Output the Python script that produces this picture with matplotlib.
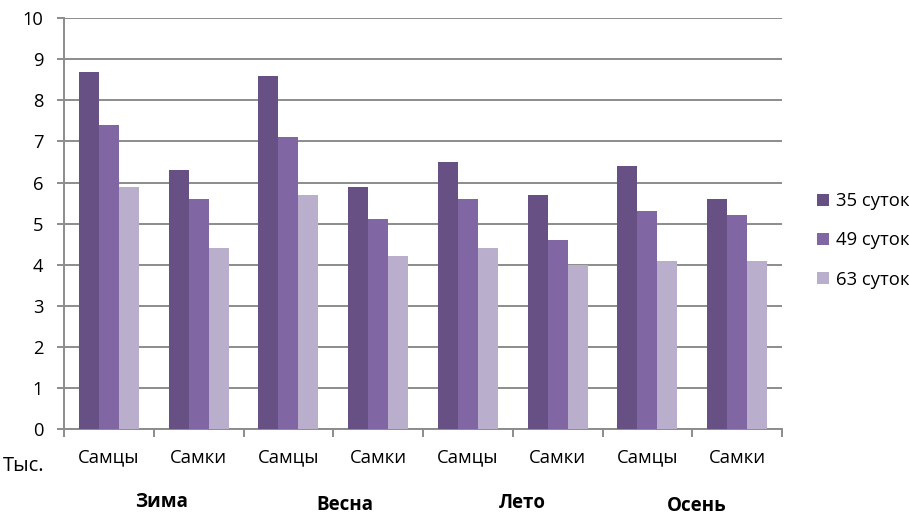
import numpy as np
import matplotlib
matplotlib.use("Agg")
import matplotlib.pyplot as plt
from matplotlib.patches import Patch

plt.rcParams["font.family"] = ["Open Sans", "DejaVu Sans"]

seasons = ["Зима", "Весна", "Лето", "Осень"]
sexes = ["Самцы", "Самки"]
series_names = ["35 суток", "49 суток", "63 суток"]
d35 = [8.7, 6.3, 8.6, 5.9, 6.5, 5.7, 6.4, 5.6]
d49 = [7.4, 5.6, 7.1, 5.1, 5.6, 4.6, 5.3, 5.2]
d63 = [5.9, 4.4, 5.7, 4.2, 4.4, 4.0, 4.1, 4.1]
colors = ["#675084", "#8066a3", "#b9afcc"]

cat_labels = sexes * len(seasons)
x = np.arange(len(cat_labels))
w = 0.223

fig = plt.figure(figsize=(9.09, 5.17), dpi=100)
ax = fig.add_axes([0.0704, 0.170, 0.79, 0.795])

for i, (vals, c) in enumerate(zip([d35, d49, d63], colors)):
    ax.bar(x + (i - 1) * w, vals, width=w, color=c, zorder=3)

grid_c = "#8c8c8c"
ax.set_xlim(-0.5, len(x) - 0.5)
ax.set_ylim(0, 10)
ax.set_yticks(range(0, 11))
ax.yaxis.grid(True, color=grid_c, lw=1.4, zorder=0)
for s in ["top", "right"]:
    ax.spines[s].set_visible(False)
for s in ["left", "bottom"]:
    ax.spines[s].set_color(grid_c)
    ax.spines[s].set_linewidth(1.4)

ax.tick_params(axis="y", colors=grid_c, length=5, width=1.4, labelsize=13.2,
               labelcolor="black", pad=10)
ax.set_xticks(x)
ax.set_xticklabels(cat_labels, fontsize=13.3)
ax.tick_params(axis="x", length=0, pad=14)
ax.set_xticks(np.arange(-0.5, len(x)), minor=True)
ax.tick_params(axis="x", which="minor", length=6, width=1.4, color=grid_c)

fig.text(3 / 909, 1 - 466 / 517, "Тыс.", fontsize=14.5, va="center", ha="left")

season_px = [(162, 502), (345, 505), (522, 503), (697, 506)]
for name, (px, py) in zip(seasons, season_px):
    fig.text(px / 909, 1 - py / 517, name, fontsize=13.5, fontweight="bold",
             ha="center", va="center")

handles = [Patch(facecolor=c, label=n) for c, n in zip(colors, series_names)]
fig.legend(handles=handles, loc="center left", bbox_to_anchor=(0.88, 0.535),
           frameon=False, fontsize=13.3, handlelength=0.65, handleheight=0.65,
           handletextpad=0.4, labelspacing=1.15)

fig.savefig("out.png", dpi=100, facecolor="white")
